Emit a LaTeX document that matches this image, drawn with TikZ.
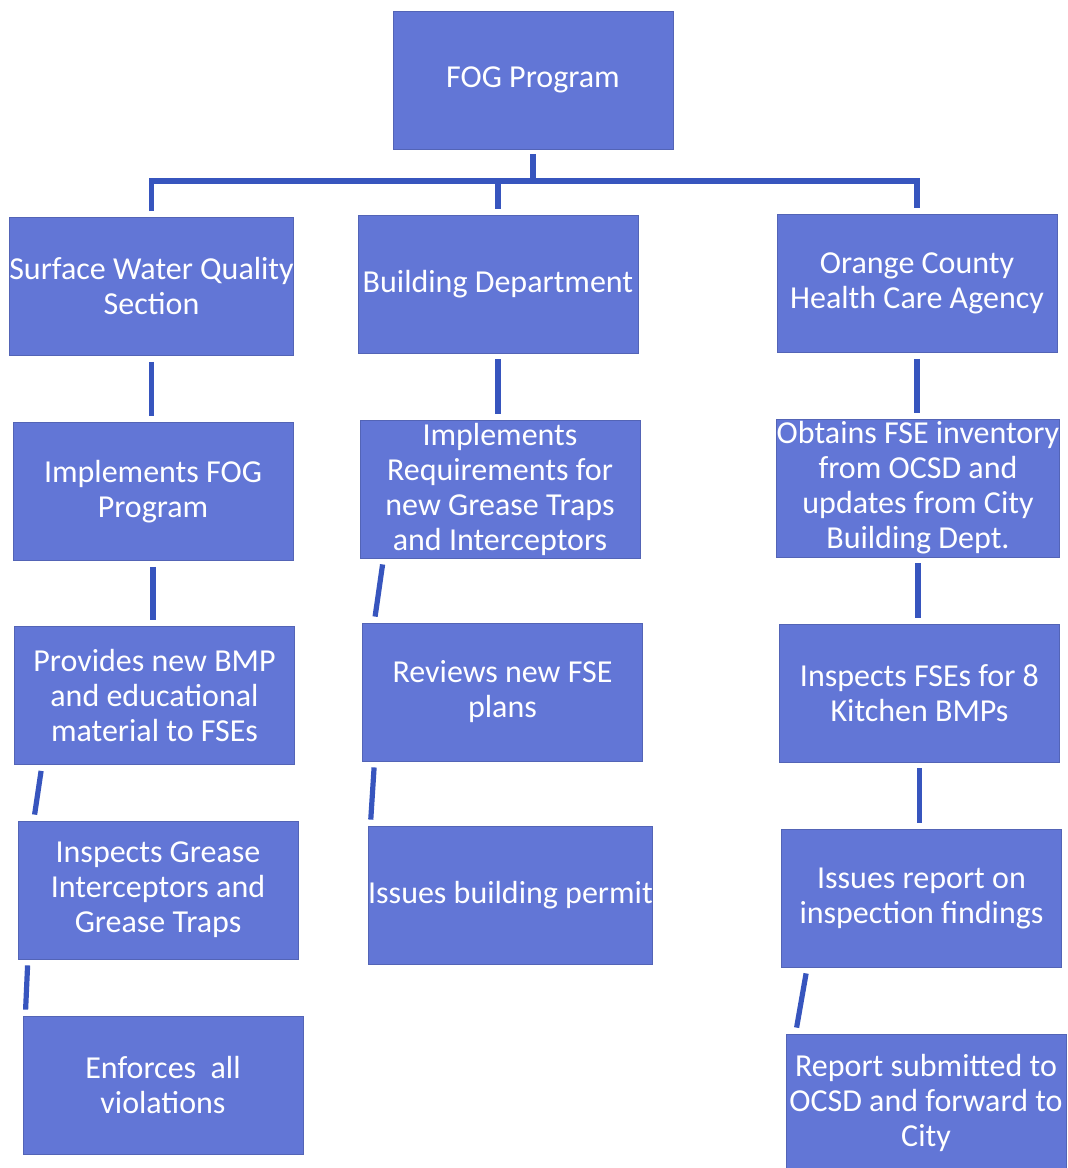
\documentclass[tikz,border=0pt]{standalone}
\usepackage{fontspec}
\setmainfont{Carlito}
\usetikzlibrary{positioning}
\definecolor{boxblue}{RGB}{98,118,214}
\definecolor{lineblue}{RGB}{55,85,190}

\begin{document}
\begin{tikzpicture}[x=0.5pt,y=-0.5pt]
		% Styles
		\tikzset{
			unit/.style={fill=boxblue, draw=boxblue!85!black, thin, text=white, minimum width=140pt, minimum height=69pt, inner sep=0pt, align=center, font=\fontsize{16}{17.5}\selectfont},
			link/.style={draw=lineblue, line width=2.6pt}
		}

		% Page
		\clip (0,0) rectangle (1068,1168);
		\fill[white] (0,0) rectangle (1068,1168);

		% Top
		\node[unit] (fog) at (533,80) {FOG Program};
		\coordinate (bar) at (533,181);

		% Left column
		\node[unit, minimum width=141.5pt] (swq) at (151.5,286.5) {Surface Water Quality\\Section};
		\node[unit] (implfog) at (153,491.5) {Implements FOG\\Program};
		\node[unit] (provbmp) at (154.5,695.5) {Provides new BMP\\and educational\\material to FSEs};
		\node[unit] (inspgrease) at (158,890) {Inspects Grease\\Interceptors and\\Grease Traps};
		\node[unit] (enforce) at (163,1085) {Enforces\ \ all\\violations};

		% Middle column
		\node[unit] (bldg) at (498,284) {Building Department};
		\node[unit] (implreq) at (500,489) {Implements\\Requirements for\\new Grease Traps\\and Interceptors};
		\node[unit] (review) at (502.5,692) {Reviews new FSE\\plans};
		\node[unit] (permit) at (510.5,895) {Issues building permit};

		% Right column
		\node[unit] (ochca) at (917,283.5) {Orange County\\Health Care Agency};
		\node[unit] (obtain) at (918,488) {Obtains FSE inventory\\from OCSD and\\updates from City\\Building Dept.};
		\node[unit] (inspfse) at (919.5,693) {Inspects FSEs for 8\\Kitchen BMPs};
		\node[unit] (report) at (921.5,898) {Issues report on\\inspection findings};
		\node[unit] (submit) at (926,1103) {Report submitted to\\OCSD and forward to\\City};

		% Tree under the top box
		\draw[link] ([yshift=-2.5pt]fog.south) -- (bar);
		\draw[link] ([yshift=3pt]swq.north) |- (bar) -| ([yshift=3pt]ochca.north);
		\draw[link] ([yshift=3pt]bldg.north) -- (bldg.north |- bar);

		% Column links
		\draw[link] ([yshift=-3pt]swq.south) -- ([yshift=3pt]swq.south |- implfog.north);
		\draw[link] ([yshift=-3pt]implfog.south) -- ([yshift=3pt]implfog.south |- provbmp.north);
		\draw[link] ([xshift=13.5pt,yshift=-3pt]provbmp.south west) -- ([xshift=8.5pt,yshift=3pt]inspgrease.north west);
		\draw[link] ([xshift=5pt,yshift=-3pt]inspgrease.south west) -- ([xshift=1.5pt,yshift=3pt]enforce.north west);

		\draw[link] ([yshift=-3pt]bldg.south) -- ([yshift=3pt]bldg.south |- implreq.north);
		\draw[link] ([xshift=11.5pt,yshift=-3pt]implreq.south west) -- ([xshift=6.5pt,yshift=3pt]review.north west);
		\draw[link] ([xshift=6pt,yshift=-3pt]review.south west) -- ([xshift=1.5pt,yshift=3pt]permit.north west);

		\draw[link] ([yshift=-3pt]ochca.south) -- ([yshift=3pt]ochca.south |- obtain.north);
		\draw[link] ([yshift=-3pt]obtain.south) -- ([yshift=3pt]obtain.south |- inspfse.north);
		\draw[link] ([yshift=-3pt]inspfse.south) -- ([yshift=3pt]inspfse.south |- report.north);
		\draw[link] ([xshift=12.5pt,yshift=-3pt]report.south west) -- ([xshift=5.5pt,yshift=3pt]submit.north west);

	\end{tikzpicture}
\end{document}
